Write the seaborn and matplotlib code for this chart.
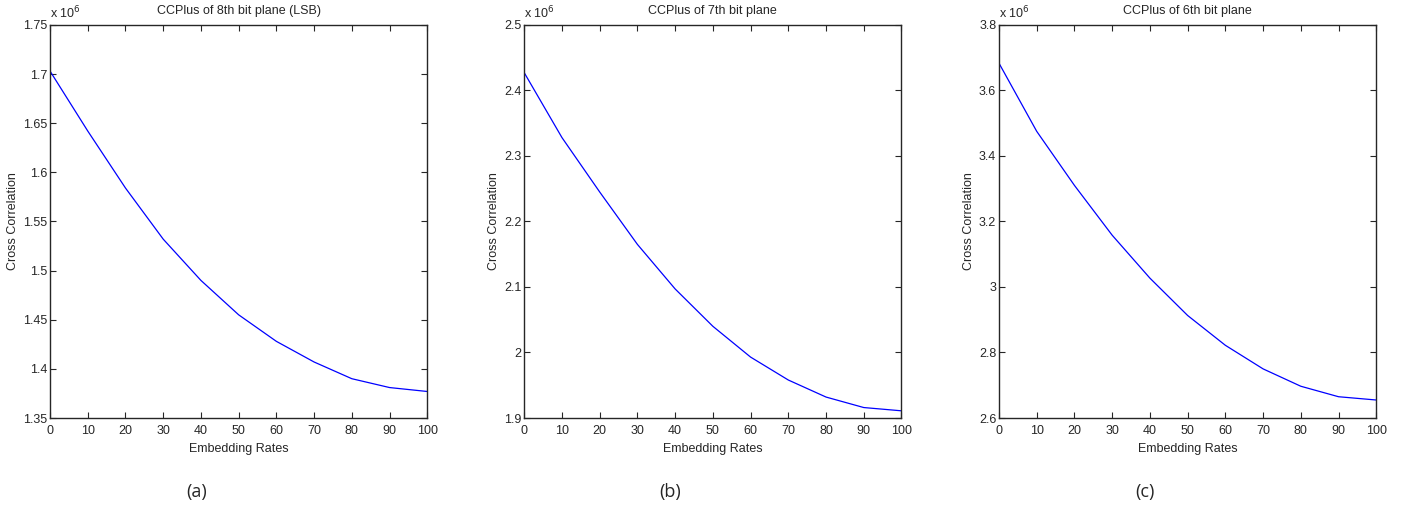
import numpy as np
import pandas as pd
import seaborn as sns
import matplotlib.pyplot as plt
from matplotlib.ticker import FuncFormatter

# embedding rates (%)
rates = [0, 10, 20, 30, 40, 50, 60, 70, 80, 90, 100]

# cross correlation values, in units of 10^6
cc_lsb = [1.703, 1.642, 1.584, 1.532, 1.490, 1.455, 1.428, 1.407, 1.390, 1.381, 1.377]
cc_7th = [2.427, 2.328, 2.245, 2.165, 2.097, 2.040, 1.993, 1.958, 1.932, 1.916, 1.911]
cc_6th = [3.683, 3.475, 3.310, 3.158, 3.027, 2.913, 2.822, 2.750, 2.697, 2.665, 2.655]

titles = ["CCPlus of 8th bit plane (LSB)", "CCPlus of 7th bit plane", "CCPlus of 6th bit plane"]
panel_labels = ["(a)", "(b)", "(c)"]
ylims = [(1.35, 1.75), (1.9, 2.5), (2.6, 3.8)]
ysteps = [0.05, 0.1, 0.2]

sns.set_style("ticks")
plt.rcParams['font.family'] = ['Liberation Sans Narrow', 'Liberation Sans', 'DejaVu Sans']

fig = plt.figure(figsize=(14.13, 5.18), dpi=100)
lefts = [0.0354, 0.371, 0.707]

for i, vals in enumerate([cc_lsb, cc_7th, cc_6th]):
    ax = fig.add_axes([lefts[i], 0.193, 0.267, 0.759])
    df = pd.DataFrame({"rate": rates, "cc": vals})
    sns.lineplot(data=df, x="rate", y="cc", ax=ax, color="#0000ff", linewidth=0.9)
    lo, hi = ylims[i]
    ax.set_xlim(0, 100)
    ax.set_ylim(lo, hi)
    ax.set_xticks(range(0, 101, 10))
    ax.set_yticks(np.round(np.arange(lo, hi + ysteps[i] / 2, ysteps[i]), 3))
    ax.yaxis.set_major_formatter(FuncFormatter(lambda v, p: "%g" % round(v, 3)))
    ax.tick_params(direction="in", top=True, right=True, length=4, width=0.8,
                   labelsize=9)
    ax.tick_params(axis="x", pad=5)
    ax.tick_params(axis="y", pad=2)
    for s in ax.spines.values():
        s.set_linewidth(1.0)
    ax.set_title(titles[i], fontsize=9, pad=8)
    ax.set_xlabel("Embedding Rates", fontsize=9, labelpad=4)
    ax.set_ylabel("Cross Correlation", fontsize=9, labelpad=3)
    ax.text(0.0, 1.01, "x 10$^6$", transform=ax.transAxes, fontsize=9,
            ha="left", va="bottom")
    fig.text(lefts[i] + 0.267 / 2 - 0.03, 0.05, panel_labels[i], fontsize=13,
             ha="center", va="center", family=["Open Sans", "DejaVu Sans"])

plt.savefig("out.png", dpi=100)
plt.close()
